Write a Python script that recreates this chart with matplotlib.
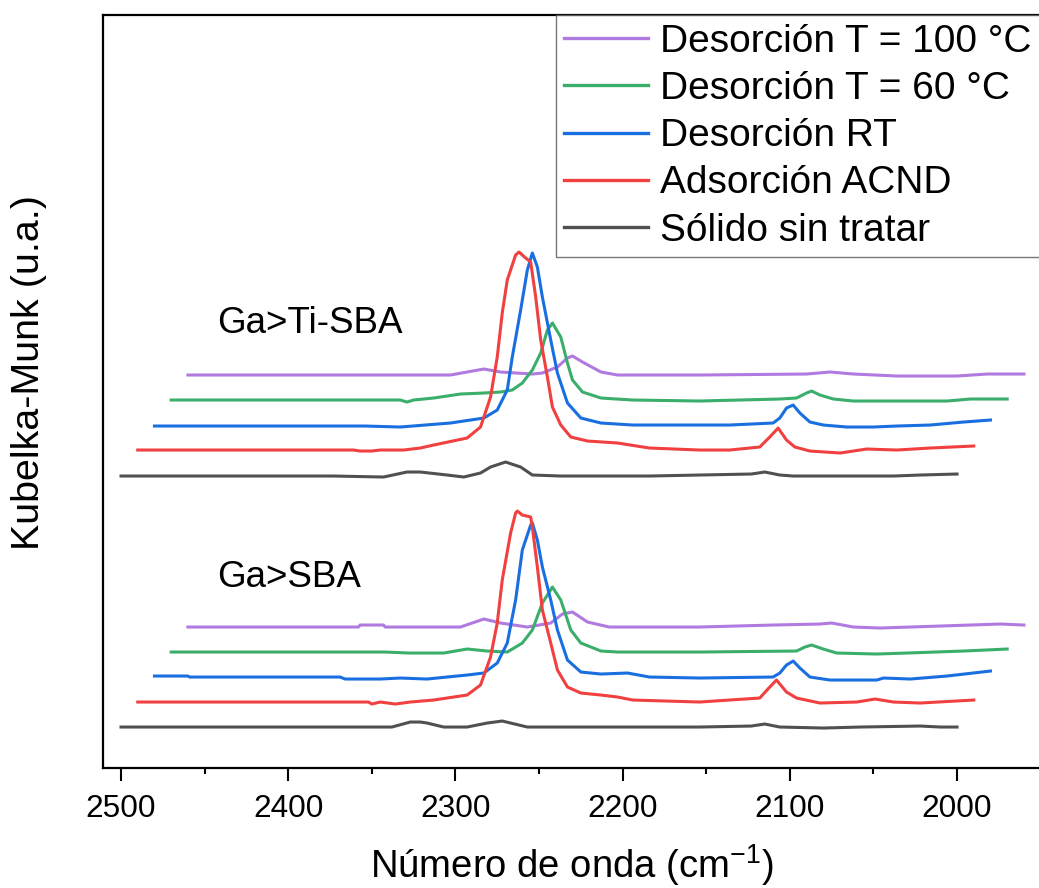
import matplotlib
matplotlib.use("Agg")
import matplotlib.pyplot as plt

plt.rcParams['font.family'] = ['Liberation Sans', 'DejaVu Sans']
plt.rcParams['mathtext.fontset'] = 'custom'
plt.rcParams['mathtext.rm'] = 'Liberation Sans'
plt.rcParams['mathtext.it'] = 'Liberation Sans:italic'

# ---- Ga>Ti-SBA (upper stack) : wavenumber (cm-1), Kubelka-Munk (a.u., stacked) ----
ti_solid_x = [2500, 2373, 2343, 2329, 2321, 2305, 2295, 2285, 2279, 2270, 2261, 2254, 2237, 2184,
              2154, 2123, 2115, 2106, 2098, 2038, 2022, 2000]
ti_solid_y = [2.92, 2.92, 2.91, 2.96, 2.96, 2.93, 2.91, 2.95, 3.01, 3.06, 3.01, 2.93, 2.92, 2.92,
              2.93, 2.94, 2.96, 2.93, 2.92, 2.92, 2.93, 2.94]

ti_ads_x = [2490, 2361, 2357, 2350, 2345, 2331, 2321, 2313, 2293, 2285, 2279, 2275, 2272, 2269,
            2264, 2262, 2258, 2255, 2252, 2249, 2245, 2242, 2237, 2231, 2221, 2203, 2184, 2154,
            2136, 2118, 2112, 2107, 2102, 2097, 2088, 2070, 2054, 2036, 2016, 1990]
ti_ads_y = [3.18, 3.18, 3.17, 3.17, 3.18, 3.18, 3.20, 3.23, 3.30, 3.41, 3.71, 4.11, 4.55, 4.88,
            5.13, 5.16, 5.10, 5.06, 4.71, 4.28, 3.91, 3.61, 3.43, 3.31, 3.27, 3.25, 3.20, 3.18,
            3.18, 3.21, 3.31, 3.40, 3.28, 3.21, 3.17, 3.15, 3.19, 3.18, 3.20, 3.22]

ti_rt_x = [2480, 2354, 2333, 2303, 2283, 2275, 2269, 2266, 2261, 2257, 2254, 2251, 2248, 2243,
           2239, 2233, 2225, 2213, 2194, 2154, 2136, 2110, 2106, 2102, 2098, 2094, 2088, 2080,
           2066, 2050, 2036, 2016, 1996, 1980]
ti_rt_y = [3.42, 3.42, 3.41, 3.45, 3.50, 3.58, 3.78, 4.11, 4.58, 4.98, 5.15, 5.01, 4.71, 4.28,
           3.95, 3.65, 3.50, 3.45, 3.43, 3.43, 3.43, 3.45, 3.50, 3.60, 3.63, 3.55, 3.46, 3.43,
           3.41, 3.41, 3.42, 3.43, 3.46, 3.48]

ti_60_x = [2470, 2333, 2329, 2325, 2313, 2297, 2283, 2273, 2266, 2260, 2254, 2249, 2245, 2242,
           2237, 2233, 2230, 2224, 2213, 2194, 2154, 2106, 2096, 2090, 2087, 2082, 2074, 2062,
           2006, 1992, 1970]
ti_60_y = [3.68, 3.68, 3.66, 3.68, 3.70, 3.74, 3.75, 3.76, 3.78, 3.85, 3.98, 4.15, 4.38, 4.45,
           4.31, 4.05, 3.88, 3.76, 3.70, 3.68, 3.67, 3.69, 3.70, 3.75, 3.77, 3.73, 3.69, 3.67,
           3.67, 3.69, 3.69]

ti_100_x = [2460, 2303, 2293, 2283, 2273, 2254, 2248, 2239, 2233, 2230, 2224, 2213, 2203, 2154,
            2090, 2076, 2062, 2036, 2000, 1982, 1960]
ti_100_y = [3.93, 3.93, 3.96, 3.99, 3.96, 3.94, 3.95, 4.01, 4.10, 4.12, 4.06, 3.96, 3.93, 3.93,
            3.94, 3.96, 3.94, 3.92, 3.92, 3.94, 3.94]

# ---- Ga>SBA (lower stack) ----
sba_solid_x = [2500, 2338, 2327, 2321, 2317, 2307, 2293, 2281, 2272, 2257, 2154, 2123, 2115,
               2106, 2080, 2058, 2022, 2010, 2000]
sba_solid_y = [0.41, 0.41, 0.46, 0.46, 0.45, 0.41, 0.41, 0.45, 0.47, 0.41, 0.41, 0.42, 0.44,
               0.41, 0.40, 0.41, 0.42, 0.41, 0.41]

sba_ads_x = [2490, 2352, 2350, 2345, 2336, 2327, 2313, 2293, 2285, 2279, 2275, 2272, 2267, 2264,
             2263, 2260, 2255, 2254, 2251, 2248, 2243, 2239, 2233, 2225, 2213, 2203, 2194, 2154,
             2118, 2112, 2108, 2102, 2096, 2082, 2060, 2049, 2038, 2022, 1990]
sba_ads_y = [0.66, 0.66, 0.64, 0.66, 0.64, 0.66, 0.68, 0.73, 0.83, 1.11, 1.45, 1.88, 2.35, 2.55,
             2.57, 2.53, 2.51, 2.41, 2.01, 1.58, 1.25, 0.98, 0.81, 0.75, 0.73, 0.71, 0.68, 0.66,
             0.70, 0.81, 0.88, 0.76, 0.70, 0.65, 0.66, 0.69, 0.66, 0.65, 0.68]

sba_rt_x = [2480, 2460, 2459, 2369, 2366, 2345, 2333, 2317, 2293, 2283, 2275, 2269, 2264, 2260,
            2255, 2254, 2251, 2248, 2243, 2239, 2233, 2225, 2213, 2197, 2184, 2154, 2110, 2106,
            2102, 2098, 2094, 2088, 2076, 2048, 2044, 2028, 2006, 1980]
sba_rt_y = [0.92, 0.92, 0.91, 0.91, 0.89, 0.89, 0.90, 0.89, 0.93, 0.95, 1.05, 1.25, 1.68, 2.18,
            2.43, 2.45, 2.28, 2.01, 1.68, 1.38, 1.08, 0.96, 0.94, 0.95, 0.91, 0.90, 0.91, 0.95,
            1.03, 1.07, 1.00, 0.91, 0.88, 0.88, 0.90, 0.89, 0.92, 0.97]

sba_60_x = [2470, 2345, 2342, 2328, 2307, 2293, 2281, 2269, 2260, 2254, 2248, 2242, 2237, 2231,
            2225, 2213, 2203, 2154, 2096, 2091, 2087, 2080, 2072, 2048, 2030, 1996, 1970]
sba_60_y = [1.16, 1.16, 1.16, 1.15, 1.15, 1.19, 1.17, 1.16, 1.25, 1.38, 1.65, 1.81, 1.68, 1.38,
            1.25, 1.17, 1.16, 1.16, 1.17, 1.21, 1.23, 1.19, 1.15, 1.14, 1.15, 1.17, 1.19]

sba_100_x = [2460, 2358, 2357, 2343, 2342, 2297, 2283, 2273, 2257, 2243, 2236, 2230, 2221, 2208,
             2154, 2110, 2082, 2075, 2062, 2046, 2010, 1974, 1960]
sba_100_y = [1.41, 1.41, 1.43, 1.43, 1.41, 1.41, 1.49, 1.45, 1.41, 1.45, 1.54, 1.56, 1.46, 1.41,
             1.41, 1.43, 1.44, 1.45, 1.41, 1.40, 1.42, 1.44, 1.43]

labels = ["Desorción T = 100 °C", "Desorción T = 60 °C", "Desorción RT",
          "Adsorción ACND", "Sólido sin tratar"]
colors = ["#B07AE0", "#3AAE6A", "#1A6FE0", "#F0403F", "#505050"]

upper = [(ti_100_x, ti_100_y), (ti_60_x, ti_60_y), (ti_rt_x, ti_rt_y),
         (ti_ads_x, ti_ads_y), (ti_solid_x, ti_solid_y)]
lower = [(sba_100_x, sba_100_y), (sba_60_x, sba_60_y), (sba_rt_x, sba_rt_y),
         (sba_ads_x, sba_ads_y), (sba_solid_x, sba_solid_y)]

fig = plt.figure(figsize=(10.39, 8.88), dpi=100)
ax = fig.add_axes([0.0991, 0.1351, 0.9115, 0.848])

handles = []
for (x, y), c, lab in zip(upper, colors, labels):
    h, = ax.plot(x, y, color=c, lw=2.2, label=lab, solid_joinstyle='round')
    handles.append(h)
for (x, y), c in zip(lower, colors):
    ax.plot(x, y, color=c, lw=2.2, solid_joinstyle='round')

ax.set_xlim(2510.8, 1944.4)
ax.set_ylim(0, 7.53)
ax.set_xticks([2500, 2400, 2300, 2200, 2100, 2000])
ax.set_xticks([2450, 2350, 2250, 2150, 2050], minor=True)
ax.tick_params(axis='x', which='major', direction='out', length=9.5, width=1.5,
               labelsize=22.8, pad=9)
ax.tick_params(axis='x', which='minor', direction='out', length=4, width=1.5)
ax.set_yticks([])
for side in ['left', 'bottom', 'top', 'right']:
    ax.spines[side].set_linewidth(1.6)

ax.text(2442.6, 4.35, "Ga>Ti-SBA", fontsize=26.5, ha='left', va='baseline')
ax.text(2442.6, 1.81, "Ga>SBA", fontsize=26.5, ha='left', va='baseline')

fig.text(29 / 1039, 1 - 372 / 888, "Kubelka-Munk (u.a.)", rotation=90,
         fontsize=28.4, ha='center', va='center')
fig.text(572 / 1039, 1 - 878 / 888, r"Número de onda (cm$^{\mathregular{-1}}$)",
         fontsize=27.5, ha='center', va='baseline')

leg = ax.legend(handles=handles, loc='upper left', bbox_to_anchor=(0.478, 1.0, 0.56, 0.0),
                mode='expand', fontsize=28, frameon=True, fancybox=False, borderaxespad=0,
                handlelength=2.16, handletextpad=0.31, borderpad=0.22,
                labelspacing=0.29)
leg.get_frame().set_edgecolor('#555555')
leg.get_frame().set_linewidth(1.0)
for ln in leg.get_lines():
    ln.set_linewidth(2.4)

fig.savefig("out.png", dpi=100)
